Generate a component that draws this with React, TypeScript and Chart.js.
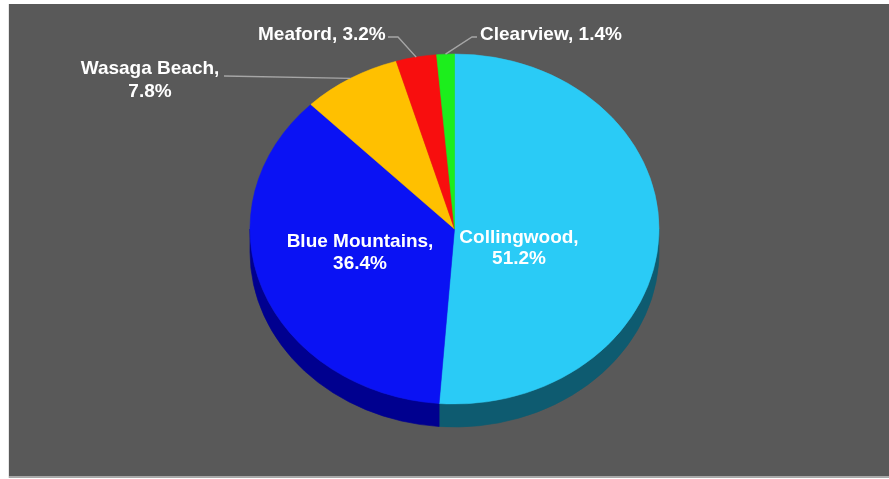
import React, { useEffect, useRef } from "react";
import { Chart, registerables } from "chart.js";

Chart.register(...registerables);

const categories = ["Collingwood", "Blue Mountains", "Wasaga Beach", "Meaford", "Clearview"];
const shares = [51.2, 36.4, 7.8, 3.2, 1.4];
const percentLabels = ["51.2%", "36.4%", "7.8%", "3.2%", "1.4%"];
const topColors = ["#2ACBF6", "#0A12F4", "#FFC000", "#F80E0E", "#1CEE1C"];
const sideColors = ["#0E5B70", "#00008F", "#B38600", "#A00000", "#0E8A0E"];

const RX = 204.5; // horizontal radius of the tilted pie
const DEPTH = 23; // thickness of the 3D rim
const FONT = "bold 19px 'Liberation Sans', Arial, sans-serif";

type LabelSpec = {
  lines: string[];
  x: number;
  y: number;
  align: CanvasTextAlign;
  lineGap: number;
  leader?: [number, number][];
};

const labelSpecs: LabelSpec[] = [
  { lines: [categories[0] + ",", percentLabels[0]], x: 519, y: 243, align: "center", lineGap: 21 },
  { lines: [categories[1] + ",", percentLabels[1]], x: 360, y: 247, align: "center", lineGap: 22 },
  { lines: [categories[2] + ",", percentLabels[2]], x: 150, y: 74, align: "center", lineGap: 23, leader: [[224, 76]] },
  { lines: [categories[3] + ", " + percentLabels[3]], x: 258, y: 40, align: "left", lineGap: 0, leader: [[388, 37], [398, 37]] },
  { lines: [categories[4] + ", " + percentLabels[4]], x: 480, y: 40, align: "left", lineGap: 0, leader: [[477, 37], [472, 37]] },
];

const backgroundPlugin = {
  id: "bg",
  beforeDraw(chart: any) {
    const ctx = chart.ctx;
    ctx.save();
    ctx.fillStyle = "#FFFFFF";
    ctx.fillRect(0, 0, chart.width, chart.height);
    ctx.fillStyle = "#595959";
    ctx.fillRect(9, 4, chart.width - 9, 472);
    ctx.fillStyle = "#A9A9A9";
    ctx.fillRect(9, 476, chart.width - 9, 2);
    ctx.fillStyle = "#E6E6E6";
    ctx.fillRect(8, 4, 1, 474);
    ctx.restore();
  },
};

const tiltPlugin = {
  id: "tilt",
  beforeDatasetsDraw(chart: any) {
    const ctx = chart.ctx;
    const meta = chart.getDatasetMeta(0);
    const arcs = meta.data;
    if (!arcs.length) return;
    const cx = arcs[0].x;
    const cy = arcs[0].y;
    const r = arcs[0].outerRadius;
    const sx = RX / r;
    ctx.save();
    ctx.translate(cx, cy);
    ctx.scale(sx, 1);
    ctx.translate(-cx, -cy);
    arcs.forEach((arc: any, i: number) => {
      const a0 = arc.startAngle;
      const a1 = arc.endAngle;
      for (const k of [-2 * Math.PI, 0, 2 * Math.PI]) {
        const s = Math.max(a0, k);
        const e = Math.min(a1, Math.PI + k);
        if (e > s) {
          ctx.beginPath();
          ctx.arc(cx, cy, r, s, e);
          ctx.arc(cx, cy + DEPTH, r, e, s, true);
          ctx.closePath();
          ctx.fillStyle = sideColors[i];
          ctx.fill();
          ctx.strokeStyle = sideColors[i];
          ctx.lineWidth = 0.6;
          ctx.stroke();
        }
      }
    });
  },
  afterDatasetsDraw(chart: any) {
    chart.ctx.restore();
  },
};

const labelPlugin = {
  id: "pieLabels",
  afterDraw(chart: any) {
    const ctx = chart.ctx;
    const meta = chart.getDatasetMeta(0);
    const arcs = meta.data;
    if (!arcs.length) return;
    const cx = arcs[0].x;
    const cy = arcs[0].y;
    const r = arcs[0].outerRadius;
    const sx = RX / r;
    ctx.save();
    labelSpecs.forEach((spec, i) => {
      const arc = arcs[i];
      if (spec.leader) {
        const mid = (arc.startAngle + arc.endAngle) / 2;
        const ax = cx + sx * r * Math.cos(mid);
        const ay = cy + r * Math.sin(mid);
        ctx.beginPath();
        ctx.moveTo(spec.leader[0][0], spec.leader[0][1]);
        for (let j = 1; j < spec.leader.length; j++) ctx.lineTo(spec.leader[j][0], spec.leader[j][1]);
        ctx.lineTo(ax, ay);
        ctx.strokeStyle = "#A6A6A6";
        ctx.lineWidth = 1.4;
        ctx.stroke();
      }
      ctx.font = FONT;
      ctx.fillStyle = "#FFFFFF";
      ctx.textAlign = spec.align;
      ctx.textBaseline = "alphabetic";
      spec.lines.forEach((line, j) => {
        ctx.fillText(line, spec.x, spec.y + j * spec.lineGap);
      });
    });
    ctx.restore();
  },
};

export default function App() {
  const canvasRef = useRef<HTMLCanvasElement | null>(null);

  useEffect(() => {
    if (!canvasRef.current) return;
    const chart = new Chart(canvasRef.current, {
      type: "pie",
      data: {
        labels: categories,
        datasets: [
          {
            data: shares,
            backgroundColor: topColors,
            borderColor: topColors,
            borderWidth: 0.5,
          },
        ],
      },
      options: {
        responsive: false,
        animation: false,
        devicePixelRatio: 1,
        events: [],
        radius: 175,
        rotation: 0,
        layout: { padding: { left: 20, right: 0, top: 0, bottom: 21 } },
        plugins: {
          legend: { display: false },
          tooltip: { enabled: false },
          title: { display: false },
        },
      } as any,
      plugins: [backgroundPlugin, tiltPlugin, labelPlugin],
    });
    return () => chart.destroy();
  }, []);

  return (
    <div style={{ position: "absolute", left: 0, top: 0, width: 889, height: 479 }}>
      <canvas ref={canvasRef} width={889} height={479} style={{ width: 889, height: 479, display: "block" }} />
    </div>
  );
}
